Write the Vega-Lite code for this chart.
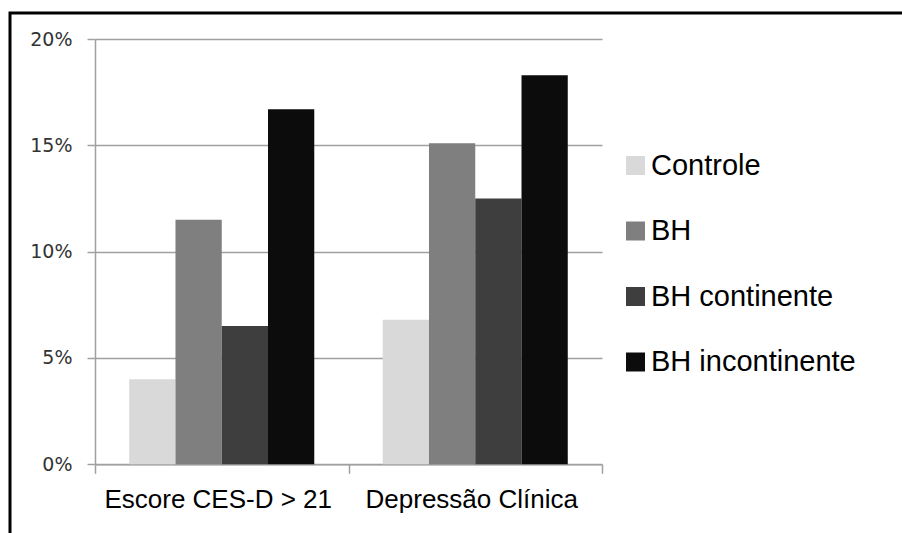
{
  "$schema": "https://vega.github.io/schema/vega-lite/v6.json",
  "width": 900,
  "height": 530,
  "autosize": "none",
  "padding": {"left": 10, "top": 13, "right": 0, "bottom": 0},
  "background": "white",
  "data": {
    "values": [
      {"measure": "Escore CES-D > 21", "group": "Controle", "value": 4.0},
      {"measure": "Escore CES-D > 21", "group": "BH", "value": 11.5},
      {"measure": "Escore CES-D > 21", "group": "BH continente", "value": 6.5},
      {"measure": "Escore CES-D > 21", "group": "BH incontinente", "value": 16.7},
      {"measure": "Depressão Clínica", "group": "Controle", "value": 6.8},
      {"measure": "Depressão Clínica", "group": "BH", "value": 15.1},
      {"measure": "Depressão Clínica", "group": "BH continente", "value": 12.5},
      {"measure": "Depressão Clínica", "group": "BH incontinente", "value": 18.3}
    ]
  },
  "mark": {"type": "bar"},
  "encoding": {
    "x": {
      "field": "measure",
      "type": "nominal",
      "sort": ["Escore CES-D > 21", "Depressão Clínica"],
      "scale": {"range": [85, 592], "paddingInner": 0, "paddingOuter": 0},
      "axis": {
        "title": null,
        "orient": "bottom",
        "offset": -78.7,
        "tickBand": "extent",
        "labelAngle": 0,
        "labelFont": "Liberation Sans",
        "labelFontSize": 26,
        "labelLimit": 400,
        "labelColor": "black",
        "labelPadding": 13,
        "labelOffset": -4,
        "tickSize": 9,
        "tickColor": "#a0a0a0",
        "tickWidth": 1.5,
        "domainColor": "#a0a0a0",
        "domainWidth": 1.5,
        "grid": false
      }
    },
    "xOffset": {
      "field": "group",
      "type": "nominal",
      "sort": ["Controle", "BH", "BH continente", "BH incontinente"],
      "scale": {"paddingInner": 0, "paddingOuter": 0.74}
    },
    "y": {
      "field": "value",
      "type": "quantitative",
      "scale": {"domain": [0, 20], "range": [451.3, 26], "nice": false},
      "axis": {
        "title": null,
        "offset": -85,
        "values": [0, 5, 10, 15, 20],
        "labelExpr": "datum.value + '%'",
        "labelFont": "DejaVu Sans",
        "labelFontSize": 19,
        "labelColor": "#333333",
        "labelPadding": 15,
        "tickSize": 8,
        "tickColor": "#a0a0a0",
        "tickWidth": 1.5,
        "domainColor": "#a0a0a0",
        "domainWidth": 1.5,
        "grid": true,
        "gridColor": "#a0a0a0",
        "gridWidth": 1.5
      }
    },
    "color": {
      "field": "group",
      "type": "nominal",
      "sort": ["Controle", "BH", "BH continente", "BH incontinente"],
      "scale": {
        "domain": ["Controle", "BH", "BH continente", "BH incontinente"],
        "range": ["#d9d9d9", "#7f7f7f", "#3e3e3e", "#0c0c0c"]
      },
      "legend": {
        "title": null,
        "orient": "none",
        "legendX": 611,
        "legendY": 138,
        "padding": 0,
        "symbolType": "square",
        "symbolSize": 361,
        "symbolStrokeWidth": 0,
        "labelFont": "Liberation Sans",
        "labelFontSize": 29,
        "labelColor": "black",
        "labelOffset": 1,
        "rowPadding": 35.5,
        "labelLimit": 400
      }
    }
  },
  "config": {"view": {"stroke": "black", "strokeWidth": 3}}
}
